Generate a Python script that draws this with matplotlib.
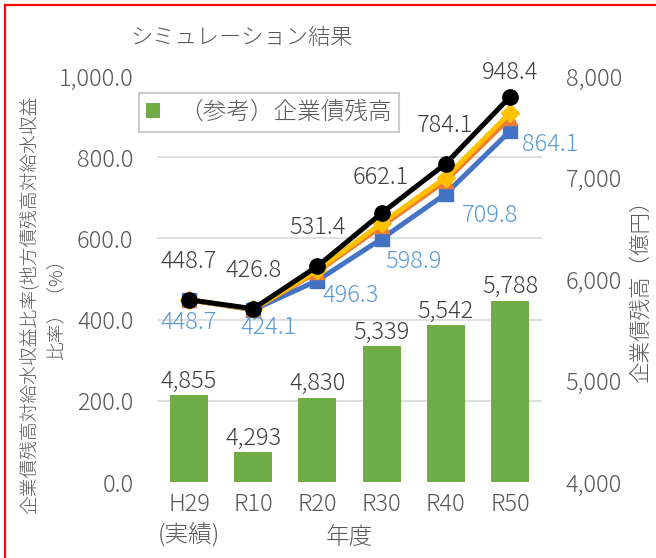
import matplotlib
matplotlib.use("Agg")
import matplotlib.pyplot as plt
from matplotlib.lines import Line2D

plt.rcParams['font.family'] = ['Noto Sans CJK JP', 'DejaVu Sans']
plt.rcParams['font.weight'] = 'light'

# data
years = ["H29\n(実績)", "R10", "R20", "R30", "R40", "R50"]
bond_balance = [4855, 4293, 4830, 5339, 5542, 5788]        # 億円, right axis
ratio_black = [448.7, 426.8, 531.4, 662.1, 784.1, 948.4]
ratio_yellow = [448.7, 425.5, 522.0, 637.0, 750.0, 909.0]
ratio_orange = [448.7, 425.0, 518.0, 630.0, 742.0, 897.0]
ratio_blue = [448.7, 424.1, 496.3, 598.9, 709.8, 864.1]

GRAY = "#595959"
DARK = "#404040"
FS = 17

W, H = 656, 558
fig = plt.figure(figsize=(W / 100, H / 100), dpi=100)
ax = fig.add_axes([157 / W, 1 - 482 / H, 385 / W, 406 / H])
ax2 = ax.twinx()

x = list(range(len(years)))

# bars (right axis)
ax2.bar(x, bond_balance, width=0.59, color="#70AD47", zorder=3, label="（参考）企業債残高")
ax2.set_ylim(4000, 8000)
ax2.set_yticks([4000, 5000, 6000, 7000, 8000])
ax2.set_yticklabels([f"{v:,}" for v in [4000, 5000, 6000, 7000, 8000]])
for xi, v in zip(x, bond_balance):
    ax2.annotate(f"{v:,}", (xi, v), xytext=(0, 1), textcoords="offset points",
                 ha="center", va="bottom", fontsize=FS, color=DARK)

# gridlines follow the left axis ticks
left_ticks = [0, 200, 400, 600, 800, 1000]
ax2.set_yticks([4000 + t * 4 for t in left_ticks], minor=True)
ax2.grid(True, which="minor", axis="y", color="#D9D9D9", linewidth=1.2, zorder=0)
ax2.tick_params(axis="y", which="minor", length=0)

# lines (left axis)
ax.set_zorder(ax2.get_zorder() + 1)
ax.patch.set_visible(False)
ax.plot(x, ratio_blue, color="#4472C4", marker="s", markersize=10, linewidth=3.6)
ax.plot(x, ratio_orange, color="#ED7D31", marker="^", markersize=10, linewidth=3.6)
ax.plot(x, ratio_yellow, color="#FFC000", marker="D", markersize=9, linewidth=3.6)
ax.plot(x, ratio_black, color="#000000", marker="o", markersize=11, linewidth=3.6)
ax.set_ylim(0, 1000)
ax.set_xlim(-0.5, 5.5)
ax.set_yticks(left_ticks)
ax.set_yticklabels([f"{v:,.1f}" for v in left_ticks])
ax.set_xticks(x)
ax.set_xticklabels(years, linespacing=1.3)

# label offsets in pixels (dx, dy downwards)
black_off = [(0, -38), (0, -38), (0, -39), (-1, -36), (-1, -38), (0, -24)]
blue_off = [(0, 23), (15, 18), (33, 15), (32, 23), (44, 22), (40, 13)]
for xi, v, (dx, dy) in zip(x, ratio_black, black_off):
    ax.annotate(f"{v:.1f}", (xi, v), xytext=(dx / 1.389, -dy / 1.389), textcoords="offset points",
                ha="center", va="center", fontsize=FS, color=DARK)
for xi, v, (dx, dy) in zip(x, ratio_blue, blue_off):
    ax.annotate(f"{v:.1f}", (xi, v), xytext=(dx / 1.389, -dy / 1.389), textcoords="offset points",
                ha="center", va="center", fontsize=FS, color="#5B9BD5")

for a in (ax, ax2):
    for s in a.spines.values():
        s.set_visible(False)
ax.tick_params(axis="y", length=0, pad=17, labelsize=FS, labelcolor=GRAY)
ax.tick_params(axis="x", length=0, pad=7, labelsize=FS, labelcolor=GRAY)
ax2.tick_params(axis="y", which="major", length=0, pad=17, labelsize=FS, labelcolor=GRAY)

# titles / axis labels
fig.text(130 / W, 1 - 38 / H, "シミュレーション結果", fontsize=16, color=GRAY, ha="left", va="center")
fig.text(349 / W, 1 - 537 / H, "年度", fontsize=FS, color=GRAY, ha="center", va="center")
fig.text(43 / W, 1 - 305 / H, "企業債残高対給水収益比率(地方債残高対給水収益\n比率）（%）",
         rotation=90, fontsize=13.5, color=GRAY, ha="center", va="center",
         multialignment="center", linespacing=1.55)
fig.text(641 / W, 1 - 286 / H, "企業債残高（億円）", rotation=90, fontsize=15.5,
         color=GRAY, ha="center", va="center")

handles, labels = ax2.get_legend_handles_labels()
leg = fig.legend(handles, labels, loc="upper left", bbox_to_anchor=(127 / W, 1 - 81 / H),
                 fontsize=17, frameon=True, fancybox=False, edgecolor="#BFBFBF",
                 handlelength=0.6, handleheight=0.6, borderpad=0.3, handletextpad=0.8)
leg.get_frame().set_linewidth(1.5)
for t in leg.get_texts():
    t.set_color(GRAY)

# red frame of the pasted figure
fig.add_artist(Line2D([5 / W, 5 / W], [0, 1 - 5 / H], color="red", linewidth=1.6))
fig.add_artist(Line2D([5 / W, 1], [1 - 5 / H, 1 - 5 / H], color="red", linewidth=1.6))

fig.savefig("out.png", dpi=100)
